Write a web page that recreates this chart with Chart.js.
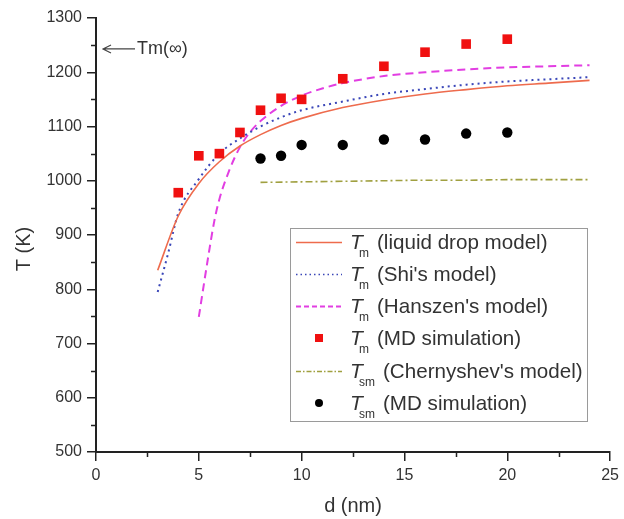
<!DOCTYPE html>
<html>
<head>
<meta charset="utf-8">
<script src="https://cdn.jsdelivr.net/npm/chart.js@4.4.1/dist/chart.umd.min.js"></script>
<style>
  html, body { margin: 0; padding: 0; background: #fff; }
  #wrap { width: 624px; height: 519px; }
</style>
</head>
<body>
<div id="wrap"><canvas id="c" width="624" height="519"></canvas></div>
<script>
// Particle diameter d (nm) and melting temperatures T (K)
const dLiquid  = [3, 4, 5, 6, 7, 8, 9, 10, 12, 14, 16, 18, 20, 22, 24];
const tLiquid  = [835, 935, 995, 1035, 1064, 1085, 1102, 1115, 1135, 1149, 1160, 1168, 1175, 1180, 1185];

const dShi     = [3, 3.5, 4, 5, 6, 7, 8, 9, 10, 12, 14, 16, 18, 20, 22, 24];
const tShi     = [795, 865, 940, 1003, 1050, 1078, 1100, 1117, 1130, 1146, 1160, 1169, 1177, 1183, 1187, 1191];

const dHanszen = [5, 5.5, 5.75, 6, 6.5, 7, 7.5, 8, 9, 10, 11, 12, 14, 16, 18, 20, 22, 24];
const tHanszen = [749, 870, 925, 966, 1021, 1062, 1090, 1110, 1138, 1157, 1170, 1180, 1193, 1200, 1205, 1209, 1211, 1213];

const dTmMD    = [4, 5, 6, 7, 8, 9, 10, 12, 14, 16, 18, 20];
const tTmMD    = [978, 1046, 1050, 1089, 1130, 1152, 1150, 1188, 1211, 1237, 1252, 1261];

const dCher    = [8, 10, 12, 14, 16, 18, 20, 22, 24];
const tCher    = [997, 998, 999, 1000, 1001, 1001, 1002, 1002, 1002];

const dTsmMD   = [8, 9, 10, 12, 14, 16, 18, 20];
const tTsmMD   = [1041, 1046, 1066, 1066, 1076, 1076, 1087, 1089];

const xTicks = [0, 5, 10, 15, 20, 25];
const yTicks = [500, 600, 700, 800, 900, 1000, 1100, 1200, 1300];
const xMinor = [2.5, 7.5, 12.5, 17.5, 22.5];
const yMinor = [550, 650, 750, 850, 950, 1050, 1150, 1250];

const tInfLabel = 'Tm(\u221E)';
const tInf = 1243;

const legendRows = [
  { sub: 'm',  text: '(liquid drop model)' },
  { sub: 'm',  text: "(Shi's model)" },
  { sub: 'm',  text: "(Hanszen's model)" },
  { sub: 'm',  text: '(MD simulation)' },
  { sub: 'sm', text: "(Chernyshev's model)" },
  { sub: 'sm', text: '(MD simulation)' }
];

const FONT = '"Liberation Sans", Arial, Helvetica, sans-serif';
const AXIS = '#222222';
const TEXT = '#333333';

const pts = (xs, ys) => xs.map((x, i) => ({ x: x, y: ys[i] }));

const colors = {
  liquid: '#ee6b4d',
  shi: '#3a46b8',
  hanszen: '#e23ee2',
  tmMD: '#f01010',
  cher: '#a0a040',
  tsmMD: '#000000'
};

const datasets = [
  { label: 'liquid', data: pts(dLiquid, tLiquid), showLine: true, borderColor: colors.liquid,
    borderWidth: 1.6, pointRadius: 0, cubicInterpolationMode: 'monotone', order: 2 },
  { label: 'shi', data: pts(dShi, tShi), showLine: true, borderColor: colors.shi,
    borderWidth: 2, borderDash: [2, 4], pointRadius: 0, cubicInterpolationMode: 'monotone', order: 2 },
  { label: 'hanszen', data: pts(dHanszen, tHanszen), showLine: true, borderColor: colors.hanszen,
    borderWidth: 2, borderDash: [8, 5], pointRadius: 0, cubicInterpolationMode: 'monotone', order: 2 },
  { label: 'tmMD', data: pts(dTmMD, tTmMD), showLine: false, pointStyle: 'rect',
    pointRadius: 6.8, backgroundColor: colors.tmMD, borderColor: colors.tmMD, borderWidth: 0, order: 0 },
  { label: 'cher', data: pts(dCher, tCher), showLine: true, borderColor: colors.cher,
    borderWidth: 1.6, borderDash: [7, 3, 2, 3], pointRadius: 0, cubicInterpolationMode: 'monotone', order: 2 },
  { label: 'tsmMD', data: pts(dTsmMD, tTsmMD), showLine: false, pointStyle: 'circle',
    pointRadius: 5.2, backgroundColor: colors.tsmMD, borderColor: colors.tsmMD, borderWidth: 0, order: 0 }
];

// Minor ticks, axis titles, legend box and the bulk-melting arrow
const decorations = {
  id: 'decorations',
  afterDraw(chart) {
    const ctx = chart.ctx;
    const xs = chart.scales.x, ys = chart.scales.y;
    const area = chart.chartArea;
    ctx.save();

    // minor ticks
    ctx.strokeStyle = AXIS;
    ctx.lineWidth = 1.5;
    ctx.beginPath();
    xMinor.forEach(v => {
      const px = Math.round(xs.getPixelForValue(v)) + 0.5;
      ctx.moveTo(px, area.bottom);
      ctx.lineTo(px, area.bottom + 5);
    });
    yMinor.forEach(v => {
      const py = Math.round(ys.getPixelForValue(v)) + 0.5;
      ctx.moveTo(area.left, py);
      ctx.lineTo(area.left - 5, py);
    });
    ctx.stroke();

    // axis titles
    ctx.fillStyle = TEXT;
    ctx.font = '20px ' + FONT;
    ctx.textAlign = 'center';
    ctx.textBaseline = 'middle';
    ctx.fillText('d (nm)', (area.left + area.right) / 2, 506);
    ctx.save();
    ctx.translate(24, 249);
    ctx.rotate(-Math.PI / 2);
    ctx.fillText('T (K)', 0, 0);
    ctx.restore();

    // bulk melting point arrow
    const ay = ys.getPixelForValue(tInf);
    ctx.strokeStyle = '#444';
    ctx.lineWidth = 1.2;
    ctx.beginPath();
    ctx.moveTo(103, ay); ctx.lineTo(135, ay);
    ctx.moveTo(111, ay - 4); ctx.lineTo(103, ay); ctx.lineTo(111, ay + 4);
    ctx.stroke();
    ctx.font = '18px ' + FONT;
    ctx.textAlign = 'left';
    ctx.fillStyle = TEXT;
    ctx.fillText(tInfLabel, 137, ay);

    // legend
    const L = 290, T = 228, R = 587, B = 421;
    ctx.fillStyle = '#ffffff';
    ctx.fillRect(L, T, R - L, B - T);
    ctx.strokeStyle = '#9a9a9a';
    ctx.lineWidth = 1;
    ctx.strokeRect(L + 0.5, T + 0.5, R - L, B - T);

    const rowY = [242, 274, 306, 338, 371, 403];
    const sx0 = 296, sx1 = 342, mx = 319;
    legendRows.forEach((row, i) => {
      const y = rowY[i];
      const ds = datasets[i];
      ctx.save();
      if (ds.showLine) {
        ctx.strokeStyle = ds.borderColor;
        ctx.lineWidth = i === 1 ? 1.4 : (ds.borderWidth - 0.2);
        ctx.setLineDash(i === 1 ? [1.5, 3] : i === 2 ? [5, 3] : i === 4 ? [5, 2, 1.5, 2] : []);
        ctx.beginPath();
        ctx.moveTo(sx0, y + 0.5); ctx.lineTo(sx1, y + 0.5);
        ctx.stroke();
      } else {
        ctx.fillStyle = ds.backgroundColor;
        if (ds.pointStyle === 'rect') {
          ctx.fillRect(mx - 4, y - 4, 8, 8);
        } else {
          ctx.beginPath(); ctx.arc(mx, y, 4, 0, Math.PI * 2); ctx.fill();
        }
      }
      ctx.restore();

      ctx.fillStyle = TEXT;
      ctx.textBaseline = 'alphabetic';
      ctx.textAlign = 'left';
      ctx.font = 'italic 21px ' + FONT;
      ctx.fillText('T', 350, y + 7);
      ctx.font = '12px ' + FONT;
      ctx.fillText(row.sub, 359, y + 15);
      ctx.font = '20.6px ' + FONT;
      ctx.fillText(row.text, row.sub === 'sm' ? 383 : 377, y + 7);
    });

    ctx.restore();
  }
};

new Chart(document.getElementById('c'), {
  type: 'scatter',
  data: { datasets: datasets },
  options: {
    responsive: false,
    animation: false,
    devicePixelRatio: 1,
    layout: { padding: { top: 18, right: 11, left: 0, bottom: 0 } },
    plugins: { legend: { display: false }, tooltip: { enabled: false } },
    elements: { line: { tension: 0 } },
    scales: {
      x: {
        type: 'linear', min: 0, max: 25,
        afterBuildTicks: s => { s.ticks = xTicks.map(v => ({ value: v })); },
        afterFit: s => { s.height = 67; },
        border: { color: AXIS, width: 2 },
        grid: { drawOnChartArea: false, drawTicks: true, tickLength: 9, color: AXIS, lineWidth: 1.5 },
        ticks: { color: TEXT, font: { family: FONT, size: 16 }, padding: 5, maxRotation: 0,
                 callback: v => String(v) }
      },
      y: {
        type: 'linear', min: 500, max: 1300,
        afterBuildTicks: s => { s.ticks = yTicks.map(v => ({ value: v })); },
        afterFit: s => { s.width = 96; },
        border: { color: AXIS, width: 2 },
        grid: { drawOnChartArea: false, drawTicks: true, tickLength: 9, color: AXIS, lineWidth: 1.5 },
        ticks: { color: TEXT, font: { family: FONT, size: 16 }, padding: 5,
                 callback: v => String(v) }
      }
    }
  },
  plugins: [decorations]
});
</script>
</body>
</html>
